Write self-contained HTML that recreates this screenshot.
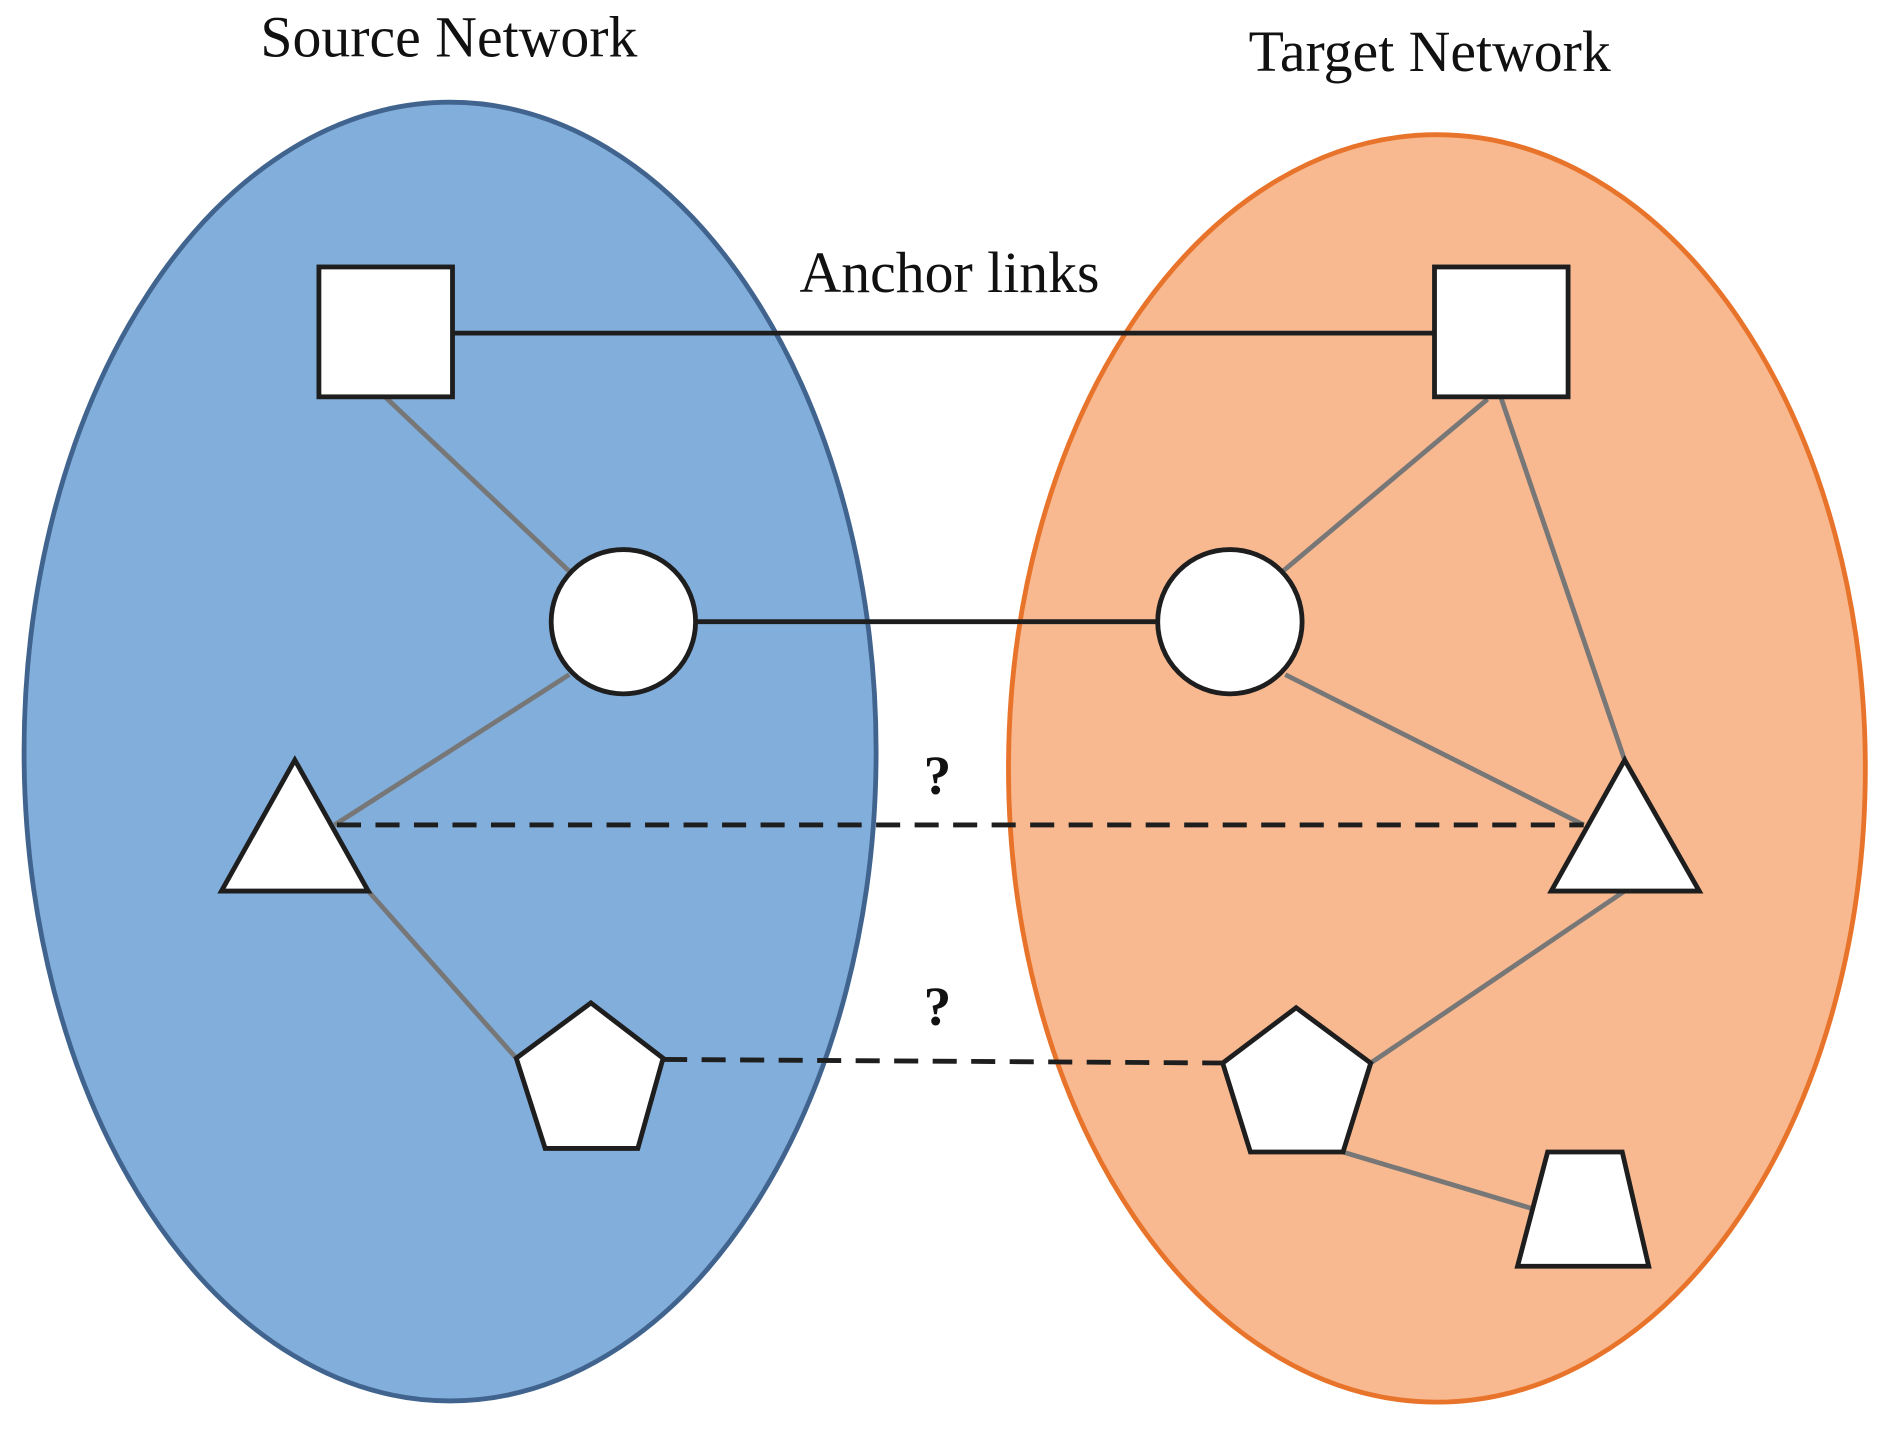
<!DOCTYPE html>
<html><head><meta charset="utf-8"><style>
html,body{margin:0;padding:0;background:#fff;}
svg{display:block;}
text{font-family:"Liberation Serif",serif;fill:#111;}
</style></head><body>
<svg width="1887" height="1431" viewBox="0 0 1568 1190" preserveAspectRatio="none" xmlns="http://www.w3.org/2000/svg">
<rect width="1568" height="1190" fill="#fff"/>
<ellipse cx="374" cy="625" rx="354" ry="540" fill="#82aedc" stroke="#41648f" stroke-width="4"/>
<ellipse cx="1194" cy="639" rx="356" ry="527" fill="#f8b990" stroke="#e8732a" stroke-width="4"/>
<text x="373" y="47" font-size="48" text-anchor="middle">Source Network</text>
<text x="1188" y="59" font-size="48" text-anchor="middle">Target Network</text>
<text x="789" y="243" font-size="48" text-anchor="middle">Anchor links</text>
<text x="779" y="660" font-size="46" font-weight="bold" text-anchor="middle">?</text>
<text x="779" y="852" font-size="46" font-weight="bold" text-anchor="middle">?</text>
<g stroke="#777" stroke-width="4">
<line x1="320" y1="330" x2="473" y2="475"/>
<line x1="473" y1="561" x2="278" y2="686"/>
<line x1="306" y1="741" x2="429" y2="880"/>
<line x1="1247" y1="330" x2="1350" y2="632"/>
<line x1="1236" y1="332" x2="1066" y2="475"/>
<line x1="1068" y1="561" x2="1316" y2="686"/>
<line x1="1350" y1="741" x2="1139" y2="884"/>
<line x1="1116" y1="958" x2="1273" y2="1005"/>
</g>
<g stroke="#1e1e1e" stroke-width="4" fill="none">
<line x1="376" y1="277" x2="1192" y2="277"/>
<line x1="578" y1="517" x2="962" y2="517"/>
<line x1="280" y1="686" x2="1316" y2="686" stroke-dasharray="20,12"/>
<line x1="551" y1="881" x2="1016" y2="884" stroke-dasharray="20,12"/>
</g>
<g fill="#fff" stroke="#1e1e1e" stroke-width="4" stroke-linejoin="miter">
<rect x="265" y="222" width="111" height="108"/>
<rect x="1192" y="222" width="111" height="108"/>
<circle cx="518" cy="517" r="60"/>
<circle cx="1022" cy="517" r="60"/>
<polygon points="245,632 306,741 184,741"/>
<polygon points="1350,632 1412,741 1289,741"/>
<polygon points="491,834 551,880 530,955 453,955 429,880"/>
<polygon points="1077,838 1139,884 1116,958 1039,958 1016,884"/>
<polygon points="1286,958 1348,958 1370,1053 1261,1053"/>
</g>
</svg>
</body></html>
